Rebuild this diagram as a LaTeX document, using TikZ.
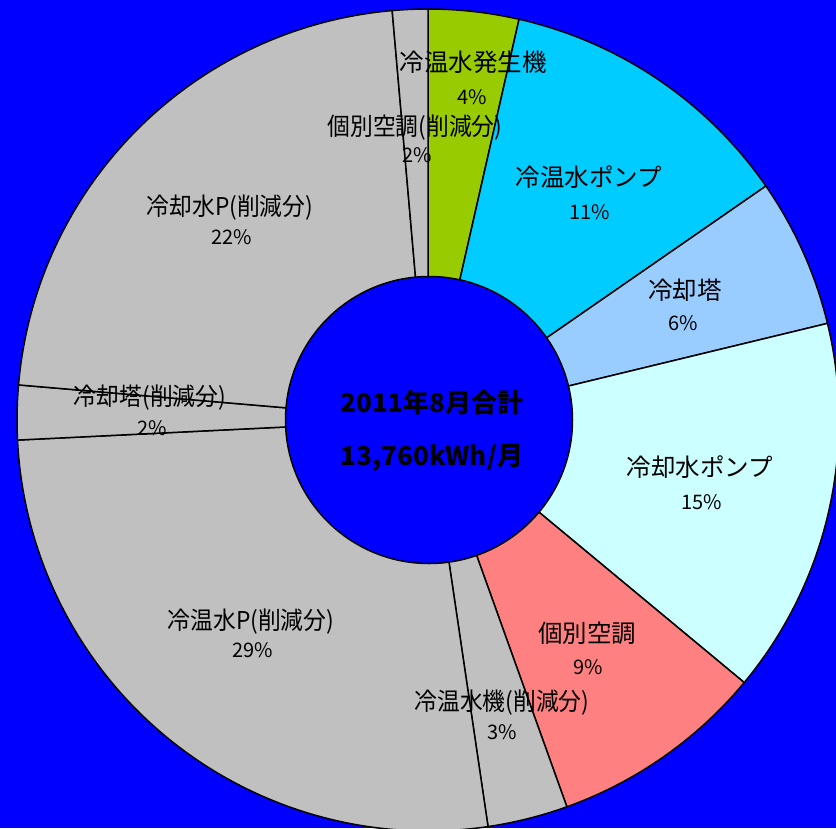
\documentclass[tikz,border=0pt]{standalone}
\usepackage{fontspec}
\newfontfamily\jp{Noto Sans CJK JP}
\definecolor{bgblue}{RGB}{0,0,255}
\definecolor{cgreen}{RGB}{153,204,0}
\definecolor{ccyan}{RGB}{0,204,255}
\definecolor{clblue}{RGB}{153,204,255}
\definecolor{clcyan}{RGB}{204,255,255}
\definecolor{cpink}{RGB}{255,128,128}
\definecolor{cgray}{RGB}{192,192,192}
\tikzset{
  wedge/.style={draw=black, line width=1.5pt, line join=round},
  lbl/.style={inner sep=0pt, font=\jp\fontsize{24.5}{28}\selectfont, text=black},
  glbl/.style={lbl, xscale=0.93},
  pct/.style={inner sep=0pt, font=\jp\fontsize{20}{24}\selectfont, text=black},
  ctr/.style={inner sep=0pt, font=\jp\bfseries\fontsize{26}{30}\selectfont, text=black}
}
\newcommand{\mywedge}[3]{%
  \filldraw[wedge, fill=#1] (428,420) -- ++(#2:411) arc[start angle=#2, end angle=#3, radius=411] -- cycle;}
\begin{document}
\begin{tikzpicture}[x=1pt,y=-1pt]
\useasboundingbox (0,0) rectangle (836,828);
\fill[bgblue] (0,0) rectangle (836,828);
\begin{scope}
\clip (0,0) rectangle (836,828);
\mywedge{cgreen}{-90}{-77.2}
\mywedge{ccyan}{-77.2}{-34.7}
\mywedge{clblue}{-34.7}{-13.6}
\mywedge{clcyan}{-13.6}{39.7}
\mywedge{cpink}{39.7}{70.25}
\mywedge{cgray}{70.25}{81.6}
\mywedge{cgray}{81.6}{177.2}
\mywedge{cgray}{177.2}{184.9}
\mywedge{cgray}{184.9}{265}
\mywedge{cgray}{265}{270}
\end{scope}
\node[circle, draw=black, line width=1.5pt, fill=bgblue, minimum size=287pt, inner sep=0pt] (hole) at (429,420) {};
% labels
\node[lbl] (l1) at (473,62) {冷温水発生機};
\node[pct] (p1) at (472,97) {4\%};
\node[glbl] (l10) at (415,128) {個別空調(削減分)};
\node[pct] (p10) at (417,155) {2\%};
\node[lbl] (l2) at (589,177) {冷温水ポンプ};
\node[pct] (p2) at (590,212) {11\%};
\node[lbl] (l3) at (685,290) {冷却塔};
\node[pct] (p3) at (683,323) {6\%};
\node[lbl] (l4) at (700,467) {冷却水ポンプ};
\node[pct] (p4) at (702,502) {15\%};
\node[lbl] (l5) at (587,633) {個別空調};
\node[pct] (p5) at (588,667) {9\%};
\node[glbl] (l6) at (502,703) {冷温水機(削減分)};
\node[pct] (p6) at (502,732) {3\%};
\node[glbl] (l7) at (251,622) {冷温水P(削減分)};
\node[pct] (p7) at (253,650) {29\%};
\node[glbl] (l8) at (150,398) {冷却塔(削減分)};
\node[pct] (p8) at (152,428) {2\%};
\node[glbl] (l9) at (230,208) {冷却水P(削減分)};
\node[pct] (p9) at (232,237) {22\%};
\node[ctr] (c1) at (432,403) {2011年8月合計};
\node[ctr] (c2) at (432,458) {13,760kWh/月};
\end{tikzpicture}
\end{document}
